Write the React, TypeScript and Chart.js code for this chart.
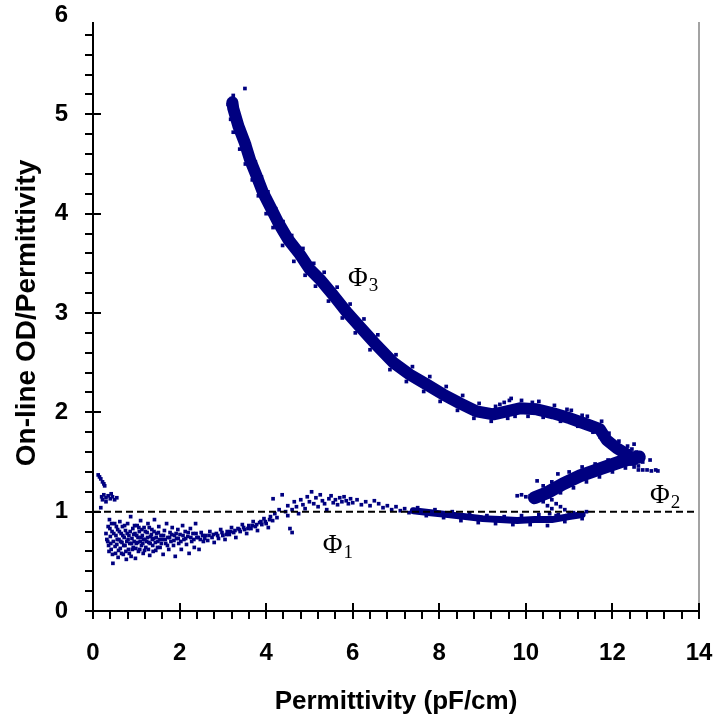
import React, { useEffect, useRef } from "react";
import { Chart, registerables } from "chart.js";

Chart.register(...registerables);

const NAVY = "#000080";

const xTicks = [0, 2, 4, 6, 8, 10, 12, 14];
const yTicks = [0, 1, 2, 3, 4, 5, 6];
const xMinorStep = 0.4;
const yMinorStep = 0.2;

const xTitle = "Permittivity (pF/cm)";
const yTitle = "On-line OD/Permittivity";

const refLineX = [0, 14];
const refLineY = [1, 1];

// Phase III branch: core of the dense band
const phi3Trace: [number, number][] = [
  [3.22, 5.12], [3.24, 5.06], [3.36, 4.88], [3.51, 4.71], [3.63, 4.54], [3.78, 4.38],
  [3.93, 4.21], [4.13, 4.04], [4.28, 3.91], [4.51, 3.74], [4.78, 3.59], [5.01, 3.44],
  [5.24, 3.34], [5.55, 3.18], [5.86, 3.01], [6.17, 2.86], [6.5, 2.7], [6.94, 2.5],
  [7.32, 2.38], [7.71, 2.28], [8.09, 2.18], [8.48, 2.09], [8.86, 2.01], [9.25, 1.98],
  [9.56, 2.01], [9.86, 2.04], [10.25, 2.03], [10.63, 1.99], [11.02, 1.94], [11.4, 1.88],
  [11.71, 1.83], [11.87, 1.72], [12.1, 1.64], [12.33, 1.58], [12.48, 1.52],
];

// Phase III branch: scattered readings around the band
const phi3Points: [number, number][] = [
  [3.51, 5.26], [3.2, 5.16], [3.24, 5.19],
  [3.12, 5.1], [3.32, 5.02], [3.18, 4.95], [3.47, 4.86], [3.24, 4.82], [3.61, 4.7],
  [3.39, 4.65], [3.75, 4.52], [3.52, 4.5], [3.89, 4.37], [3.68, 4.34], [4.04, 4.22],
  [3.82, 4.18], [4.22, 4.05], [4.0, 4.0], [4.39, 3.92], [4.16, 3.86], [4.59, 3.78],
  [4.38, 3.68], [4.85, 3.65], [4.64, 3.52], [5.1, 3.5], [4.9, 3.38], [5.34, 3.41],
  [5.14, 3.27], [5.64, 3.26], [5.44, 3.12], [5.94, 3.09], [5.76, 2.95], [6.26, 2.94],
  [6.06, 2.8], [6.58, 2.78], [6.4, 2.63], [7.0, 2.58], [6.86, 2.43], [7.38, 2.46],
  [7.24, 2.31], [7.78, 2.36], [7.64, 2.21], [8.16, 2.26], [8.02, 2.11], [8.54, 2.17],
  [8.42, 2.02], [8.92, 2.09], [8.8, 1.94], [9.3, 2.06], [9.2, 1.91], [9.5, 2.1],
  [9.58, 1.94], [9.62, 2.12], [9.75, 1.96], [9.9, 2.12], [10.05, 1.96], [10.3, 2.11],
  [10.4, 1.95], [10.66, 2.07], [10.8, 1.91], [11.05, 2.02], [11.2, 1.86], [11.42, 1.96],
  [11.55, 1.8], [11.75, 1.91], [11.72, 1.75], [11.92, 1.79], [11.95, 1.65], [12.15, 1.71],
  [12.22, 1.58], [9.4, 2.08], [9.66, 2.14], [10.15, 2.1], [10.95, 2.03], [11.3, 1.97],
];

// Phase II branch: core of the band
const phi2Trace: [number, number][] = [
  [12.62, 1.55], [12.45, 1.54], [12.17, 1.5], [11.71, 1.43], [11.25, 1.36],
  [10.86, 1.28], [10.49, 1.19], [10.2, 1.14],
];

// Phase II branch: scattered readings
const phi2Points: [number, number][] = [
  [12.25, 1.62], [12.35, 1.66], [12.45, 1.63], [12.55, 1.6], [12.65, 1.56], [12.7, 1.5],
  [12.6, 1.46], [12.5, 1.45], [12.3, 1.44], [12.4, 1.48], [12.2, 1.57], [12.5, 1.68],
  [12.87, 1.52], [12.6, 1.42], [12.7, 1.42], [12.8, 1.42], [12.9, 1.41], [13.0, 1.42],
  [13.05, 1.41],
  [11.9, 1.52], [11.6, 1.48], [11.3, 1.45], [11.0, 1.4], [10.74, 1.38], [10.26, 1.31],
  [10.6, 1.3], [10.4, 1.26],
  [12.0, 1.4], [11.7, 1.35], [11.4, 1.3], [11.1, 1.24], [10.8, 1.19], [10.6, 1.12],
  [10.4, 1.1],
  [9.8, 1.16], [9.9, 1.17], [10.0, 1.15], [10.1, 1.16],
  [10.5, 1.06], [10.6, 1.03], [10.7, 1.08], [10.8, 1.05], [10.9, 1.02], [11.0, 0.99],
  [10.55, 0.98], [10.75, 0.97], [10.95, 0.96],
];

// Phase I branch: dense part of the band
const phi1Trace: [number, number][] = [
  [7.4, 1.01], [7.8, 0.99], [8.2, 0.97], [8.6, 0.95], [9.0, 0.93], [9.4, 0.92],
  [9.8, 0.91], [10.2, 0.92], [10.6, 0.92], [11.0, 0.95], [11.3, 0.97],
];

// Phase I branch: scattered readings
const phi1Points: [number, number][] = [
  [0.12, 1.37], [0.15, 1.35], [0.18, 1.33], [0.22, 1.3], [0.25, 1.28], [0.27, 1.26],
  [0.2, 1.15], [0.25, 1.17], [0.3, 1.14], [0.35, 1.16], [0.4, 1.13], [0.45, 1.15],
  [0.5, 1.12], [0.55, 1.14], [0.3, 1.1], [0.18, 1.04], [0.22, 1.12], [0.42, 1.18],
  [0.3, 0.78], [0.32, 0.72], [0.35, 0.85], [0.36, 0.66], [0.38, 0.92], [0.4, 0.75],
  [0.42, 0.62], [0.44, 0.8], [0.46, 0.48], [0.47, 0.7], [0.5, 0.88], [0.52, 0.58],
  [0.53, 0.76], [0.55, 0.67], [0.57, 0.82], [0.58, 0.54], [0.6, 0.72], [0.62, 0.9],
  [0.63, 0.63], [0.65, 0.78], [0.67, 0.69], [0.68, 0.85], [0.7, 0.57], [0.72, 0.74],
  [0.74, 0.66], [0.75, 0.81], [0.77, 0.52], [0.78, 0.7], [0.8, 0.88], [0.82, 0.62],
  [0.83, 0.76], [0.85, 0.68], [0.87, 0.95], [0.88, 0.55], [0.9, 0.73], [0.92, 0.83],
  [0.93, 0.64], [0.95, 0.7], [0.97, 0.78], [0.98, 0.53], [1.0, 0.68], [1.02, 0.86],
  [1.04, 0.74], [1.05, 0.6], [1.07, 0.8], [1.09, 0.7], [1.1, 0.91], [1.12, 0.66],
  [1.14, 0.76], [1.16, 0.58], [1.18, 0.84], [1.2, 0.72], [1.22, 0.64], [1.25, 0.79],
  [1.27, 0.88], [1.29, 0.69], [1.31, 0.56], [1.33, 0.75], [1.36, 0.82], [1.38, 0.66],
  [1.4, 0.73], [1.42, 0.92], [1.45, 0.61], [1.47, 0.78], [1.5, 0.7], [1.52, 0.85],
  [1.55, 0.64], [1.57, 0.76], [1.6, 0.72], [1.62, 0.57], [1.65, 0.81], [1.68, 0.68],
  [1.7, 0.88], [1.73, 0.74], [1.75, 0.62], [1.78, 0.79], [1.8, 0.7], [1.83, 0.84],
  [1.86, 0.66], [1.88, 0.76], [1.9, 0.55], [1.93, 0.73], [1.96, 0.82], [1.98, 0.68],
  [2.01, 0.77], [2.04, 0.62], [2.07, 0.86], [2.1, 0.72], [2.13, 0.8], [2.16, 0.67],
  [2.19, 0.75], [2.22, 0.58], [2.25, 0.83], [2.28, 0.7], [2.31, 0.78], [2.34, 0.64],
  [2.37, 0.88], [2.4, 0.74], [2.45, 0.62], [2.5, 0.79], [2.55, 0.7],
  [0.34, 0.7], [0.37, 0.6], [0.39, 0.83], [0.41, 0.68], [0.43, 0.88], [0.45, 0.57],
  [0.48, 0.78], [0.51, 0.65], [0.54, 0.85], [0.56, 0.72], [0.59, 0.61], [0.61, 0.8],
  [0.64, 0.7], [0.66, 0.58], [0.69, 0.76], [0.71, 0.66], [0.73, 0.86], [0.76, 0.6],
  [0.79, 0.78], [0.81, 0.72], [0.84, 0.58], [0.86, 0.8], [0.89, 0.68], [0.91, 0.62],
  [0.94, 0.77], [0.96, 0.86], [0.99, 0.63], [1.01, 0.76], [1.03, 0.69], [1.06, 0.84],
  [1.08, 0.62], [1.11, 0.74], [1.13, 0.82], [1.15, 0.68], [1.17, 0.72], [1.19, 0.61],
  [1.21, 0.8], [1.24, 0.7], [1.26, 0.74], [1.28, 0.62], [1.3, 0.84], [1.32, 0.68],
  [1.35, 0.77], [1.37, 0.72], [1.39, 0.6], [1.41, 0.8], [1.44, 0.69], [1.46, 0.74],
  [1.49, 0.64], [1.51, 0.79], [1.54, 0.72], [1.58, 0.68], [1.63, 0.76], [1.67, 0.72],
  [1.72, 0.66], [1.77, 0.74], [1.82, 0.77], [1.87, 0.71], [1.92, 0.78], [1.97, 0.73],
  [2.03, 0.7], [2.08, 0.76], [2.14, 0.73], [2.2, 0.79], [2.26, 0.74], [2.33, 0.72],
  [2.38, 0.78], [2.43, 0.74], [2.48, 0.72], [2.53, 0.76],
  [2.6, 0.76], [2.65, 0.71], [2.7, 0.8], [2.75, 0.74], [2.8, 0.69], [2.85, 0.78],
  [2.9, 0.73], [2.95, 0.82], [3.0, 0.76], [3.05, 0.72], [3.1, 0.8], [3.15, 0.77],
  [3.2, 0.84], [3.25, 0.79], [3.3, 0.74], [3.35, 0.83], [3.4, 0.8], [3.45, 0.87],
  [3.5, 0.82], [3.55, 0.78], [3.6, 0.86], [3.65, 0.83], [3.7, 0.9], [3.75, 0.85],
  [3.8, 0.81], [3.85, 0.89], [3.9, 0.87], [3.95, 0.93], [4.0, 0.88], [4.05, 0.84],
  [2.58, 0.73], [2.68, 0.76], [2.78, 0.77], [2.88, 0.76], [2.98, 0.79], [3.08, 0.77],
  [3.18, 0.8], [3.28, 0.81], [3.38, 0.82], [3.48, 0.84], [3.58, 0.83], [3.68, 0.86],
  [3.78, 0.87], [3.88, 0.9], [3.98, 0.9], [4.08, 0.92],
  [4.1, 0.95], [4.15, 0.91], [4.2, 0.98], [4.25, 0.94], [4.3, 1.02], [4.16, 1.13],
  [4.37, 1.17], [4.45, 1.0], [4.5, 0.96], [4.55, 0.83], [4.6, 0.79], [4.5, 1.06],
  [4.6, 1.02], [4.65, 1.1], [4.7, 1.05], [4.75, 0.98], [4.8, 1.12], [4.85, 1.07],
  [4.9, 1.03], [4.95, 1.15], [5.0, 1.1], [5.05, 1.2], [5.1, 1.08], [5.15, 1.14],
  [5.2, 1.05], [5.25, 1.17], [5.3, 1.11], [5.35, 1.08], [5.4, 1.02], [5.45, 1.13],
  [5.5, 1.16], [5.55, 1.09], [5.6, 1.12], [5.65, 1.07], [5.7, 1.14], [5.75, 1.1],
  [5.8, 1.15], [5.85, 1.11], [5.9, 1.08], [5.95, 1.13], [6.0, 1.09], [6.1, 1.12],
  [6.2, 1.07], [6.3, 1.1], [6.4, 1.06], [6.5, 1.11], [6.6, 1.08], [6.7, 1.04],
  [6.8, 1.06], [6.9, 1.02], [7.0, 1.05], [7.1, 1.01], [7.2, 1.03], [7.3, 0.99],
  [7.4, 1.02],
  [7.5, 1.04], [7.7, 0.96], [7.9, 1.02], [8.1, 0.94], [8.3, 1.0], [8.5, 0.91],
  [8.7, 0.98], [8.9, 0.89], [9.1, 0.96], [9.3, 0.88], [9.5, 0.95], [9.7, 0.87],
  [9.9, 0.96], [10.1, 0.87], [10.3, 0.97], [10.5, 0.86], [10.7, 0.96], [10.9, 0.9],
  [11.1, 0.99], [11.3, 0.93], [11.4, 1.0],
];

const phiLabels = [
  { sym: "Φ", sub: "3", x: 5.89, y: 3.27 },
  { sym: "Φ", sub: "1", x: 5.31, y: 0.58 },
  { sym: "Φ", sub: "2", x: 12.87, y: 1.09 },
];

const toXY = (pts: [number, number][]) => pts.map(([x, y]) => ({ x, y }));

const axesPlugin = {
  id: "customAxes",
  afterDatasetsDraw(chart: any) {
    const { ctx, chartArea: a, scales } = chart;
    const xs = scales.x;
    const ys = scales.y;
    ctx.save();
    // right frame line
    ctx.strokeStyle = "#a3a3a3";
    ctx.lineWidth = 2;
    ctx.beginPath();
    ctx.moveTo(a.right, a.top + 7);
    ctx.lineTo(a.right, a.bottom);
    ctx.stroke();
    // axes
    ctx.strokeStyle = "#000";
    ctx.lineWidth = 2;
    ctx.beginPath();
    ctx.moveTo(a.left, a.top + 7);
    ctx.lineTo(a.left, a.bottom);
    ctx.lineTo(a.right, a.bottom);
    ctx.stroke();
    // y ticks
    const ny = Math.round((ys.max - ys.min) / yMinorStep);
    for (let i = 0; i < ny; i++) {
      const v = ys.min + i * yMinorStep;
      const py = Math.round(ys.getPixelForValue(v));
      const major = yTicks.some((t) => Math.abs(t - v) < 1e-6);
      ctx.beginPath();
      ctx.moveTo(a.left - 8, py);
      ctx.lineTo(major ? a.left + 8 : a.left, py);
      ctx.stroke();
    }
    // x ticks
    const nx = Math.round((xs.max - xs.min) / xMinorStep);
    for (let i = 0; i <= nx; i++) {
      const v = xs.min + i * xMinorStep;
      const px = Math.round(xs.getPixelForValue(v));
      const major = xTicks.some((t) => Math.abs(t - v) < 1e-6);
      ctx.beginPath();
      ctx.moveTo(px, major ? a.bottom - 8 : a.bottom);
      ctx.lineTo(px, a.bottom + 8);
      ctx.stroke();
    }
    // phase labels
    ctx.fillStyle = "#000";
    ctx.textBaseline = "alphabetic";
    ctx.textAlign = "left";
    for (const l of phiLabels) {
      const px = xs.getPixelForValue(l.x);
      const py = ys.getPixelForValue(l.y);
      ctx.font = "27px 'Liberation Serif', 'Times New Roman', serif";
      ctx.fillText(l.sym, px, py);
      const w = ctx.measureText(l.sym).width;
      ctx.font = "19px 'Liberation Serif', 'Times New Roman', serif";
      ctx.fillText(l.sub, px + w + 1, py + 5);
    }
    ctx.restore();
  },
};

export default function App() {
  const ref = useRef<HTMLCanvasElement | null>(null);
  useEffect(() => {
    if (!ref.current) return;
    const lineBase = {
      showLine: true,
      pointRadius: 0,
      borderColor: NAVY,
      borderCapStyle: "round",
      borderJoinStyle: "round",
      tension: 0,
    };
    const pointBase = {
      showLine: false,
      pointStyle: "rect",
      pointRadius: 2.6,
      backgroundColor: NAVY,
      borderWidth: 0,
    };
    const chart = new Chart(ref.current, {
      type: "scatter",
      data: {
        datasets: [
          {
            label: "reference",
            data: refLineX.map((x, i) => ({ x, y: refLineY[i] })),
            showLine: true,
            pointRadius: 0,
            borderColor: "#000",
            borderWidth: 2,
            borderDash: [7, 4],
            order: 0,
          },
          { label: "phi1", data: toXY(phi1Points), ...pointBase, order: 1 },
          { label: "phi2", data: toXY(phi2Points), ...pointBase, order: 1 },
          { label: "phi3", data: toXY(phi3Points), ...pointBase, order: 1 },
          { label: "phi1 band", data: toXY(phi1Trace), ...lineBase, borderWidth: 7, order: 2 },
          { label: "phi2 band", data: toXY(phi2Trace), ...lineBase, borderWidth: 13, order: 2 },
          { label: "phi3 band", data: toXY(phi3Trace), ...lineBase, borderWidth: 12, order: 2 },
        ] as any,
      },
      options: {
        responsive: false,
        devicePixelRatio: 1,
        animation: false,
        layout: { padding: { top: 15, right: 16, left: 0, bottom: 0 } },
        plugins: { legend: { display: false }, tooltip: { enabled: false } },
        scales: {
          x: {
            type: "linear",
            min: 0,
            max: 14,
            offset: false,
            grid: { display: false, drawTicks: false },
            border: { display: false },
            afterBuildTicks: (s: any) => {
              s.ticks = xTicks.map((v) => ({ value: v }));
            },
            afterFit: (s: any) => {
              s.height = 105;
              s.paddingLeft = 0;
              s.paddingRight = 0;
              s.paddingTop = 0;
              s.paddingBottom = 0;
            },
            ticks: {
              color: "#000",
              padding: 30,
              maxRotation: 0,
              autoSkip: false,
              font: { family: "'Liberation Sans', Arial, sans-serif", size: 24, weight: "bold", lineHeight: 1 },
            },
            title: {
              display: true,
              text: xTitle,
              color: "#000",
              padding: { top: 0, bottom: 1 },
              font: { family: "'Liberation Sans', Arial, sans-serif", size: 26, weight: "bold", lineHeight: 1 },
            },
          },
          y: {
            type: "linear",
            min: 0,
            max: 6,
            grid: { display: false, drawTicks: false },
            border: { display: false },
            afterBuildTicks: (s: any) => {
              s.ticks = yTicks.map((v) => ({ value: v }));
            },
            afterFit: (s: any) => {
              s.width = 93;
              s.paddingLeft = 0;
              s.paddingRight = 0;
              s.paddingTop = 0;
              s.paddingBottom = 0;
            },
            ticks: {
              color: "#000",
              padding: 25,
              autoSkip: false,
              font: { family: "'Liberation Sans', Arial, sans-serif", size: 24, weight: "bold", lineHeight: 1 },
            },
            title: {
              display: true,
              text: yTitle,
              color: "#000",
              padding: { top: 13, bottom: 0 },
              font: { family: "'Liberation Sans', Arial, sans-serif", size: 28, weight: "bold", lineHeight: 1 },
            },
          },
        },
      } as any,
      plugins: [axesPlugin],
    });
    return () => chart.destroy();
  }, []);
  return (
    <div style={{ position: "absolute", left: 0, top: 0, width: 715, height: 716, background: "#fff" }}>
      <canvas ref={ref} width={715} height={716} style={{ display: "block" }} />
    </div>
  );
}
